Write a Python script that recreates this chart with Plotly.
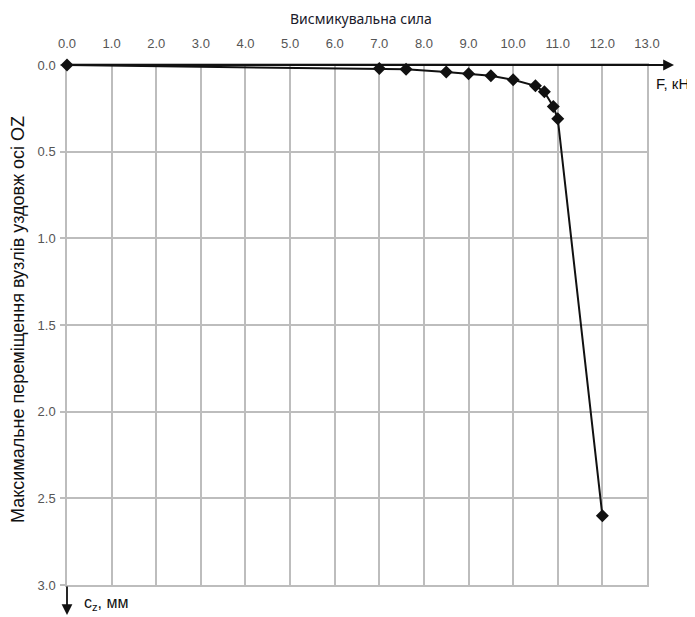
import plotly.graph_objects as go

# Data
force_kn = [0.0, 7.0, 7.6, 8.5, 9.0, 9.5, 10.0, 10.5, 10.7, 10.9, 11.0, 12.0]
disp_mm = [0.0, 0.02, 0.025, 0.04, 0.05, 0.062, 0.085, 0.12, 0.155, 0.24, 0.31, 2.6]

x_ticks = [i * 1.0 for i in range(14)]
y_ticks = [i * 0.5 for i in range(7)]

title_x = "Висмикувальна сила"
title_y = "Максимальне переміщення вузлів уздовж осі OZ"
label_f = "F, кН"
label_c = "c<sub>z</sub>, мм"

# the page body adds an 8px margin; compensate
OFF = 8
W, H = 695 - OFF, 617 - OFF
L, R, T, B = 67 - OFF, 48, 65 - OFF, 32
pw = W - L - R
ph = H - T - B

grid_col = "#bdbdbd"
tick_font = dict(family="Liberation Sans, Arial", size=13, color="#555555")

fig = go.Figure()
fig.add_trace(go.Scatter(
    x=force_kn, y=disp_mm, mode="lines+markers",
    line=dict(color="#111111", width=2),
    marker=dict(symbol="diamond", size=10, color="#111111"),
    showlegend=False, cliponaxis=False,
))

fig.update_layout(
    width=W, height=H,
    margin=dict(l=L, r=R, t=T, b=B, autoexpand=False),
    paper_bgcolor="white", plot_bgcolor="white",
    xaxis=dict(
        side="top", range=[0, 13], tickvals=x_ticks,
        ticktext=[f"{v:.1f}" for v in x_ticks],
        showgrid=True, gridcolor=grid_col, gridwidth=1.5,
        zeroline=False, showline=True, mirror=True, linecolor=grid_col, linewidth=1.5,
        ticks="", tickfont=tick_font, ticklabelstandoff=10, layer="below traces",
    ),
    yaxis=dict(
        range=[3, 0], tickvals=y_ticks,
        ticktext=[f"{v:.1f}" for v in y_ticks],
        showgrid=True, gridcolor=grid_col, gridwidth=1.5,
        zeroline=False, showline=True, mirror=True, linecolor=grid_col, linewidth=1.5,
        ticks="outside", ticklen=5, tickcolor=grid_col, tickwidth=1.5,
        tickfont=tick_font, ticklabelstandoff=2, layer="below traces",
    ),
)

def px2paper_x(px):
    return (px - OFF - L) / pw

def py2paper_y(py):
    return (H - B - (py - OFF)) / ph

annotations = [
    # top title
    dict(text=title_x, x=px2paper_x(361), y=py2paper_y(18), xref="paper", yref="paper",
         showarrow=False, font=dict(family="Noto Sans", size=14, color="#1a1a2a"),
         xanchor="center", yanchor="middle"),
    # y title
    dict(text=title_y, x=px2paper_x(18), y=py2paper_y(320), xref="paper", yref="paper",
         showarrow=False, textangle=-90,
         font=dict(family="Liberation Sans, Arial", size=18, color="#111111"),
         xanchor="center", yanchor="middle"),
    # horizontal axis arrow
    dict(text="", x=px2paper_x(674), y=1, xref="paper", yref="paper",
         showarrow=True, ax=-(674 - 67), ay=0, arrowhead=2, arrowsize=1.2,
         arrowwidth=1.8, arrowcolor="#111111"),
    # vertical axis arrow
    dict(text="", x=0, y=py2paper_y(615), xref="paper", yref="paper",
         showarrow=True, ax=0, ay=-30, arrowhead=2, arrowsize=1.2,
         arrowwidth=1.8, arrowcolor="#111111"),
    dict(text=label_f, x=px2paper_x(654), y=py2paper_y(83), xref="paper", yref="paper",
         showarrow=False, xanchor="left", yanchor="middle",
         font=dict(family="Liberation Sans, Arial", size=15, color="#111111")),
    dict(text=label_c, x=px2paper_x(82), y=py2paper_y(603), xref="paper", yref="paper",
         showarrow=False, xanchor="left", yanchor="middle",
         font=dict(family="Liberation Sans, Arial", size=16, color="#111111")),
]
fig.update_layout(annotations=annotations)

fig.write_html("out.html")
